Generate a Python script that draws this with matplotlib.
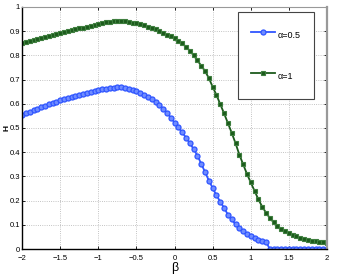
import numpy as np
import matplotlib.pyplot as plt

# beta grid, values at 0.05 steps
beta = np.round(np.arange(-2.0, 2.0001, 0.05), 2)

h_alpha05 = [
    0.555, 0.561, 0.567, 0.573, 0.579, 0.585, 0.591, 0.597, 0.603, 0.608,
    0.614, 0.619, 0.624, 0.629, 0.634, 0.638, 0.642, 0.646, 0.650, 0.654,
    0.657, 0.660, 0.663, 0.665, 0.667, 0.668, 0.668, 0.666, 0.663, 0.658,
    0.652, 0.645, 0.637, 0.628, 0.618, 0.607, 0.595, 0.580, 0.563, 0.543,
    0.522, 0.502, 0.482, 0.460, 0.437, 0.413, 0.386, 0.352, 0.318, 0.283,
    0.252, 0.222, 0.195, 0.170, 0.142, 0.122, 0.102, 0.086, 0.073, 0.062,
    0.053, 0.046, 0.039, 0.034, 0.030, 0.0, 0.0, 0.0, 0.0, 0.0,
    0.0, 0.0, 0.0, 0.0, 0.0, 0.0, 0.0, 0.0, 0.0, 0.0,
    0.0,
]

h_alpha1 = [
    0.850, 0.855, 0.859, 0.863, 0.867, 0.871, 0.875, 0.879, 0.883, 0.887,
    0.891, 0.895, 0.899, 0.903, 0.907, 0.911, 0.915, 0.919, 0.923, 0.927,
    0.930, 0.933, 0.936, 0.938, 0.940, 0.941, 0.941, 0.940, 0.938, 0.935,
    0.932, 0.928, 0.924, 0.919, 0.914, 0.908, 0.901, 0.893, 0.886, 0.879,
    0.871, 0.861, 0.849, 0.835, 0.819, 0.800, 0.779, 0.757, 0.735, 0.706,
    0.670, 0.636, 0.598, 0.560, 0.520, 0.480, 0.437, 0.390, 0.350, 0.310,
    0.275, 0.240, 0.205, 0.175, 0.150, 0.128, 0.110, 0.095, 0.083, 0.074,
    0.066, 0.059, 0.053, 0.047, 0.042, 0.038, 0.035, 0.032, 0.030, 0.028,
    0.026,
]

xticks = [-2, -1.5, -1, -0.5, 0, 0.5, 1, 1.5, 2]
xticklabels = ['\u22122', '\u22121.5', '\u22121', '\u22120.5', '0', '0.5', '1', '1.5', '2']
yticks = [0, 0.1, 0.2, 0.3, 0.4, 0.5, 0.6, 0.7, 0.8, 0.9, 1]
yticklabels = ['0', '0.1', '0.2', '0.3', '0.4', '0.5', '0.6', '0.7', '0.8', '0.9', '1']

plt.rcParams['font.family'] = ['Liberation Sans', 'DejaVu Sans']

fig = plt.figure(figsize=(3.46, 2.77), dpi=100)
ax = fig.add_axes([0.064, 0.101, 0.881, 0.874])

ax.plot(beta, h_alpha05, color='#2f55ff', linewidth=1.3,
        marker='o', markersize=3.6, markerfacecolor='#6f8cff',
        markeredgecolor='#2f55ff', markeredgewidth=0.9, label='\u03b1=0.5')
ax.plot(beta, h_alpha1, color='#1c5a1c', linewidth=1.3,
        marker='s', markersize=3.2, markerfacecolor='#1c5a1c',
        markeredgecolor='#3f7f3f', markeredgewidth=0.8, label='\u03b1=1')

ax.set_xlim(-2, 2)
ax.set_ylim(0, 1)
ax.set_xticks(xticks)
ax.set_xticklabels(xticklabels)
ax.set_yticks(yticks)
ax.set_yticklabels(yticklabels)
ax.tick_params(direction='in', labelsize=5.5, length=2.5, width=0.6,
               top=True, right=True)
ax.tick_params(axis='x', pad=4)
ax.tick_params(axis='y', pad=1.5)

ax.grid(True, linestyle=':', color='#b0b0b0', linewidth=0.6)

for side in ['left', 'bottom']:
    ax.spines[side].set_color('black')
    ax.spines[side].set_linewidth(1.0)
ax.spines['top'].set_color('#999999')
ax.spines['top'].set_linewidth(0.8)
ax.spines['right'].set_color('#999999')
ax.spines['right'].set_linewidth(1.6)

ax.set_xlabel('\u03b2', fontsize=9, labelpad=0)
ax.set_ylabel('H', fontsize=6, fontweight='bold', va='center')
ax.yaxis.set_label_coords(-0.05, 0.5)

leg = ax.legend(loc='upper right', bbox_to_anchor=(0.957, 0.979),
                fontsize=6.5, labelspacing=2.5, handlelength=2.6,
                handleheight=2.8, handletextpad=0.3, borderpad=1.5,
                borderaxespad=0, fancybox=False, framealpha=1)
leg.get_frame().set_edgecolor('#444444')
leg.get_frame().set_linewidth(0.8)

fig.savefig('out.png', dpi=100)
